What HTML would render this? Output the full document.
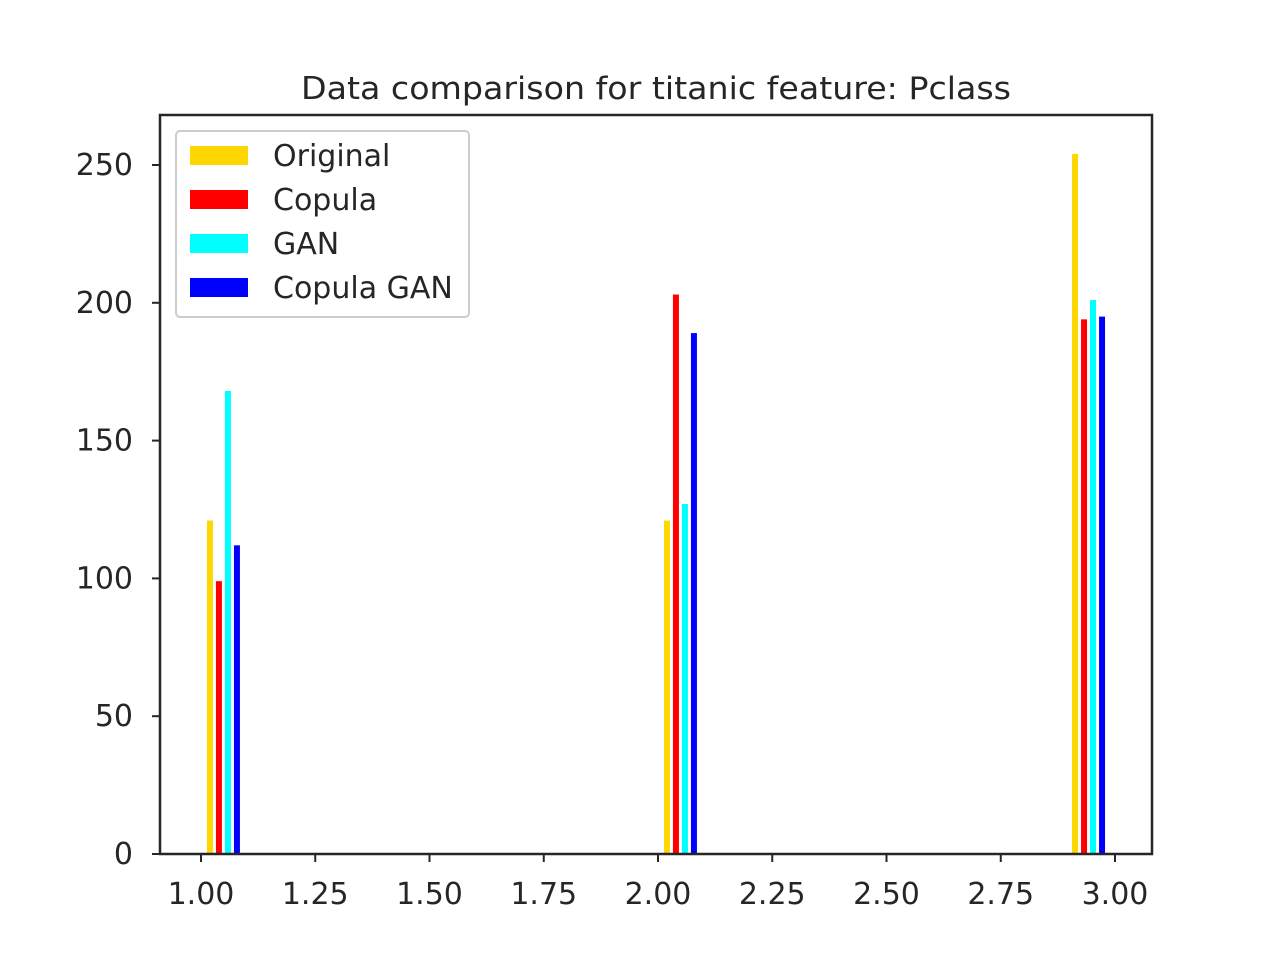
<!DOCTYPE html>
<html><head><meta charset="utf-8">
<style>
body{margin:0;background:#fff;}
svg{display:block;font-family:"DejaVu Sans","Liberation Sans",sans-serif;}
</style></head>
<body>
<svg id="chart" width="1280" height="960" viewBox="0 0 1280 960" xmlns="http://www.w3.org/2000/svg">
<rect width="1280" height="960" fill="#fff"/>
<text x="656" y="99" text-anchor="middle" font-size="31" fill="#262626" textLength="710" lengthAdjust="spacingAndGlyphs">Data comparison for titanic feature: Pclass</text>
<g id="bars"></g>
<g id="axes"></g>
<rect x="160" y="115" width="992" height="739" fill="none" stroke="#262626" stroke-width="2.5"/>
<g>
<rect x="176" y="131" width="293" height="186" rx="4" fill="#fff" fill-opacity="0.8" stroke="#ccc" stroke-width="2"/>
</g>
<g id="legend-items"></g>
</svg>
<script>
const categories = [1, 2, 3];
const groupStart = [1.013, 2.013, 2.906];
const seriesNames = ["Original", "Copula", "GAN", "Copula GAN"];
const seriesColors = ["#ffd700", "#ff0000", "#00ffff", "#0000ff"];
const original = [121, 121, 254];
const copula = [99, 203, 194];
const gan = [168, 127, 201];
const copulaGan = [112, 189, 195];
const xTicks = [1.00, 1.25, 1.50, 1.75, 2.00, 2.25, 2.50, 2.75, 3.00];
const yTicks = [0, 50, 100, 150, 200, 250];

const NS = "http://www.w3.org/2000/svg";
const X = v => 201 + (v - 1) * 457;
const Y = v => 854 - v * 2.756;
const barW = 0.0131, step = 0.0197;
const series = [original, copula, gan, copulaGan];
const barsG = document.getElementById('bars');
series.forEach((vals, s) => {
  vals.forEach((v, i) => {
    const r = document.createElementNS(NS, 'rect');
    const x0 = groupStart[i] + s * step;
    r.setAttribute('x', X(x0));
    r.setAttribute('y', Y(v));
    r.setAttribute('width', X(x0 + barW) - X(x0));
    r.setAttribute('height', Y(0) - Y(v));
    r.setAttribute('fill', seriesColors[s]);
    
    
    barsG.appendChild(r);
  });
});
const axesG = document.getElementById('axes');
xTicks.forEach(t => {
  const l = document.createElementNS(NS, 'line');
  l.setAttribute('x1', X(t)); l.setAttribute('x2', X(t));
  l.setAttribute('y1', 854); l.setAttribute('y2', 862);
  l.setAttribute('stroke', '#262626'); l.setAttribute('stroke-width', '2');
  
  
  axesG.appendChild(l);
  const tx = document.createElementNS(NS, 'text');
  tx.setAttribute('x', X(t)); tx.setAttribute('y', 904);
  tx.setAttribute('text-anchor', 'middle'); tx.setAttribute('font-size', '30'); tx.setAttribute('fill', '#262626');
  tx.textContent = t.toFixed(2);
  
  
  axesG.appendChild(tx);
});
yTicks.forEach(t => {
  const l = document.createElementNS(NS, 'line');
  l.setAttribute('x1', 152); l.setAttribute('x2', 160);
  l.setAttribute('y1', Y(t)); l.setAttribute('y2', Y(t));
  l.setAttribute('stroke', '#262626'); l.setAttribute('stroke-width', '2');
  
  
  axesG.appendChild(l);
  const tx = document.createElementNS(NS, 'text');
  tx.setAttribute('x', 133); tx.setAttribute('y', Y(t) + 10);
  tx.setAttribute('text-anchor', 'end'); tx.setAttribute('font-size', '30'); tx.setAttribute('fill', '#262626');
  tx.textContent = t;
  
  
  axesG.appendChild(tx);
});
const legG = document.getElementById('legend-items');
seriesNames.forEach((n, i) => {
  const y = 146 + i * 44;
  const r = document.createElementNS(NS, 'rect');
  r.setAttribute('x', 190); r.setAttribute('y', y); r.setAttribute('width', 58); r.setAttribute('height', 19);
  r.setAttribute('fill', seriesColors[i]);
  
  
  legG.appendChild(r);
  const t = document.createElementNS(NS, 'text');
  t.setAttribute('x', 273); t.setAttribute('y', y + 20);
  t.setAttribute('font-size', '30'); t.setAttribute('fill', '#262626');
  t.textContent = n;
  
  
  legG.appendChild(t);
});
</script>
</body></html>
